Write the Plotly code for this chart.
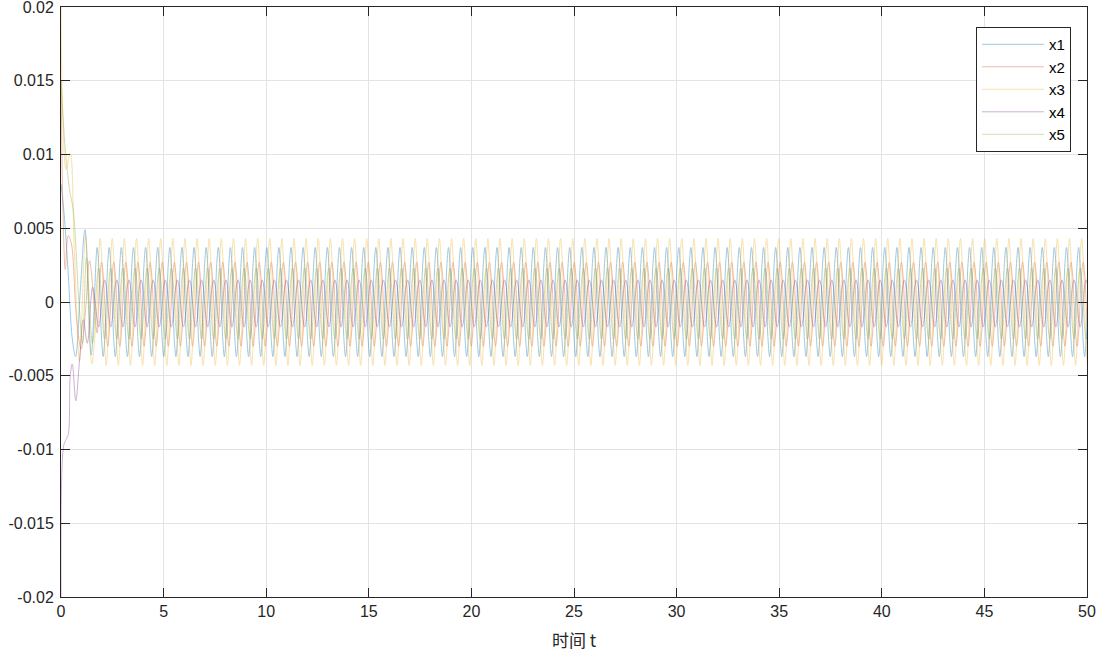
import plotly.graph_objects as go

# steady oscillation: one cycle sampled at 8 points, repeated after the start-up part
PERIOD = 0.5905
T_STEADY = 1.76
N_CYCLES = 83

names = ["x1", "x2", "x3", "x4", "x5"]
colors = ["#0072BD", "#D95319", "#EDB120", "#7E2F8E", "#77AC30"]

# start-up transient (t, value)
trans_t = {
    "x1": [0.0, 0.15, 0.35, 0.55, 0.71, 0.95, 1.17, 1.47],
    "x2": [0.0, 0.10, 0.21, 0.35, 0.50, 0.75, 0.98, 1.20, 1.39],
    "x3": [0.0, 0.08, 0.25, 0.45, 0.65, 0.90, 1.20, 1.50],
    "x4": [0.0, 0.12, 0.22, 0.35, 0.45, 0.55, 0.72, 0.90, 1.09, 1.28, 1.54],
    "x5": [0.0, 0.20, 0.42, 0.60, 0.85, 1.05, 1.24, 1.53],
}
trans_v = {
    "x1": [0.0080, 0.0060, 0.0020, -0.0025, -0.0037, 0.0010, 0.0049, -0.0036],
    "x2": [0.0150, 0.0060, 0.0022, 0.0045, 0.0040, -0.0010, -0.0032, -0.0005, 0.0028],
    "x3": [0.0200, 0.0130, 0.0090, 0.0101, 0.0035, -0.0040, 0.0045, -0.0042],
    "x4": [-0.0200, -0.0098, -0.0094, -0.0090, -0.0050, -0.0042, -0.0067, -0.0040, -0.0012, -0.0028, 0.0010],
    "x5": [0.0150, 0.0105, 0.0076, 0.0062, 0.0005, -0.0028, 0.0030, -0.0028],
}

# one steady cycle, 8 samples each
cycle_v = {
    "x1": [0.0037, 0.0026, 0.0, -0.0026, -0.0037, -0.0026, 0.0, 0.0026],
    "x2": [-0.0021, 0.0, 0.0019, 0.0027, 0.0019, 0.0, -0.0021, -0.0030],
    "x3": [0.0, 0.0030, 0.0043, 0.0030, 0.0, -0.0030, -0.0043, -0.0030],
    "x4": [-0.0012, -0.0017, -0.0012, 0.0, 0.0011, 0.0015, 0.0011, 0.0],
    "x5": [0.0016, 0.0023, 0.0016, 0.0, -0.0018, -0.0025, -0.0018, 0.0],
}

x_ticks = [0, 5, 10, 15, 20, 25, 30, 35, 40, 45, 50]
y_ticks = [-0.02, -0.015, -0.01, -0.005, 0, 0.005, 0.01, 0.015, 0.02]
y_labels = ["-0.02", "-0.015", "-0.01", "-0.005", "0", "0.005", "0.01", "0.015", "0.02"]

steady_t = [T_STEADY + i * PERIOD / 8 for i in range(8 * N_CYCLES)]

fig = go.Figure()
for name, col in zip(names, colors):
    fig.add_trace(go.Scatter(
        x=trans_t[name] + steady_t,
        y=trans_v[name] + cycle_v[name] * N_CYCLES,
        mode="lines",
        name=name,
        line=dict(color=col, width=1, shape="spline", smoothing=1),
        opacity=0.38,
    ))

axis_common = dict(
    showline=True, linecolor="#262626", linewidth=1, mirror="ticks",
    ticks="inside", ticklen=9, tickcolor="#262626",
    showgrid=True, gridcolor="#e3e3e3", gridwidth=1,
    zeroline=False, automargin=False, ticklabeloverflow="allow",
    tickfont=dict(family="Liberation Sans, Arial", size=16, color="#262626"),
)

fig.update_xaxes(range=[0, 50], tickvals=x_ticks, **axis_common)
fig.update_yaxes(range=[-0.02, 0.02], tickvals=y_ticks, ticktext=y_labels,
                 ticklabelstandoff=3, **axis_common)

# x label placed by hand (axis title standoff is ignored without automargin)
fig.add_annotation(
    text="时间 t", x=0.5, y=0, xref="paper", yref="paper",
    xanchor="center", yanchor="middle", yshift=-42, showarrow=False,
    font=dict(family="Noto Sans CJK SC", size=17, color="#262626"),
)

fig.update_layout(
    width=1098, height=651,
    margin=dict(l=61, r=11, t=7, b=54),
    plot_bgcolor="white", paper_bgcolor="white",
    legend=dict(
        x=0.9844, y=0.966, xanchor="right", yanchor="top",
        bordercolor="#262626", borderwidth=1, bgcolor="white",
        font=dict(family="Liberation Sans, Arial", size=15, color="#000000"),
        itemwidth=62, tracegroupgap=0,
    ),
)

# drop the page's default body margin so the figure sits at the top-left corner
fig.write_html("out.html", config={"displayModeBar": False},
               post_script="document.body.style.margin='0';")
